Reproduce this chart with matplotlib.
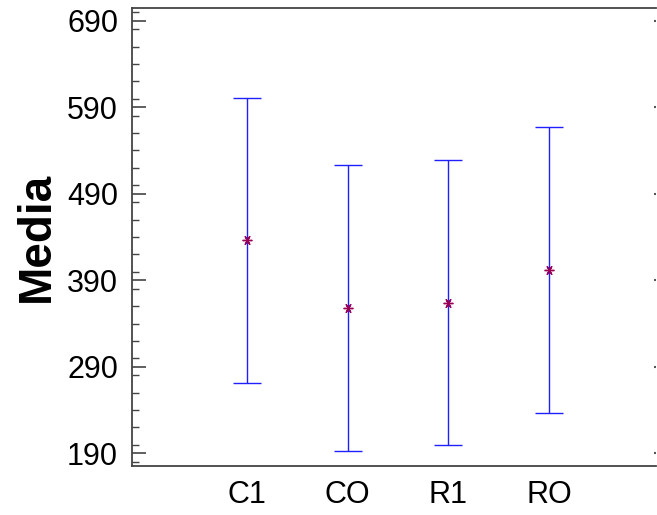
import matplotlib
matplotlib.use("Agg")
import matplotlib.pyplot as plt
from matplotlib.ticker import MultipleLocator

# data
groups = ["C1", "CO", "R1", "RO"]
means = [436, 358, 364, 402]
half_width = [165, 165, 165, 165]
yticks = [190, 290, 390, 490, 590, 690]

plt.rcParams["font.family"] = ["Liberation Sans", "DejaVu Sans"]

fig = plt.figure(figsize=(6.57, 5.15), dpi=100)
ax = fig.add_axes([132 / 657, 49 / 515, 524 / 657, 458 / 515])

x = list(range(1, len(groups) + 1))
ax.errorbar(x, means, yerr=half_width, fmt="none", ecolor="#1f1fff",
            elinewidth=1.0, capsize=10, capthick=1.0)
ax.plot(x, means, linestyle="none", marker=(6, 2, 90), markersize=7,
        markeredgecolor="#990055", markeredgewidth=1.0)

ax.set_xlim(-0.14, 5.06)
ax.set_ylim(175.3, 704.7)
ax.set_xticks(x)
ax.set_xticklabels(groups)
ax.set_yticks(yticks)
ax.yaxis.set_minor_locator(MultipleLocator(20))

ax.spines["right"].set_visible(False)
for s in ["left", "top", "bottom"]:
    ax.spines[s].set_color("#444444")
    ax.spines[s].set_linewidth(1.3)

ax.tick_params(axis="x", length=0, pad=10, labelsize=22)
ax.tick_params(axis="y", which="major", direction="in", length=10, width=1.2,
               color="#444444", pad=10, labelsize=22)
ax.tick_params(axis="y", which="minor", direction="in", length=5, width=1.0,
               color="#444444")

# the tiny marks on the right edge at the major ticks
ax2 = ax.twinx()
ax2.set_ylim(ax.get_ylim())
ax2.set_yticks(yticks)
ax2.minorticks_off()
ax2.tick_params(axis="y", direction="in", length=1.5, width=1.5,
                color="#555555", labelright=False)
for s in ax2.spines.values():
    s.set_visible(False)

ax.set_ylabel("Media", fontsize=33, fontweight="bold", labelpad=6)

fig.savefig("out.png", dpi=100)
